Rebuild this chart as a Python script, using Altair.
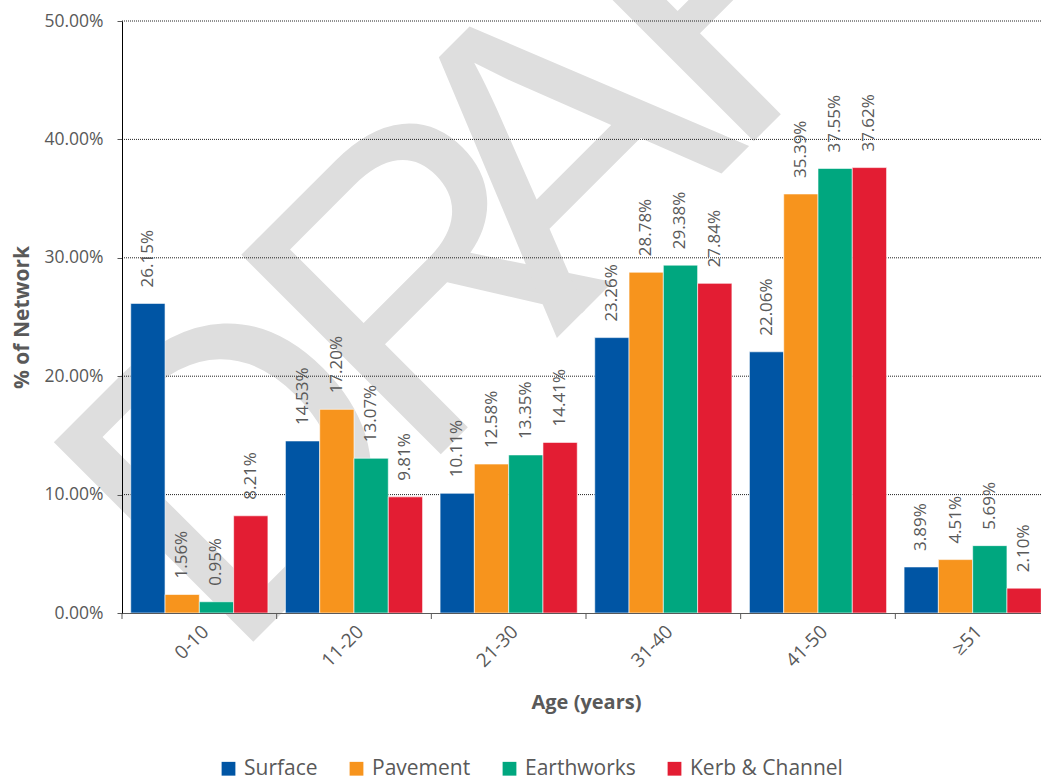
import altair as alt
import pandas as pd

# Age bands, asset series and their colours
ages = ["0-10", "11-20", "21-30", "31-40", "41-50", "≥51"]
series = ["Surface", "Pavement", "Earthworks", "Kerb & Channel"]
colors = ["#0055A4", "#F7941D", "#00A77F", "#E31D33"]

# Share of network (%) in each age band
surface = [26.15, 14.53, 10.11, 23.26, 22.06, 3.89]
pavement = [1.56, 17.20, 12.58, 28.78, 35.39, 4.51]
earthworks = [0.95, 13.07, 13.35, 29.38, 37.55, 5.69]
kerb_channel = [8.21, 9.81, 14.41, 27.84, 37.62, 2.10]

y_ticks = [0.0, 0.1, 0.2, 0.3, 0.4, 0.5]

rows = []
for name, vals in zip(series, [surface, pavement, earthworks, kerb_channel]):
    for age, v in zip(ages, vals):
        rows.append({"age": age, "series": name, "share": v / 100})
df = pd.DataFrame(rows)

W, H = 919, 592
FONT = "Open Sans"
GREY = "#595959"
X_TITLE = "Age (years)"
Y_TITLE = "% of Network"

x_scale = alt.Scale(domain=ages, range=[0, 928], paddingInner=0, paddingOuter=0)
y_scale = alt.Scale(domain=[0, 0.5])
off_scale = alt.Scale(domain=series, paddingInner=0, paddingOuter=0.255)
color_scale = alt.Scale(domain=series, range=colors)

x_axis = alt.Axis(
    ticks=False,
    grid=False,
    domain=True,
    domainColor=GREY,
    domainWidth=1,
    labelAngle=-45,
    labelFont=FONT,
    labelFontSize=19,
    labelColor=GREY,
    labelPadding=9,
    titleFont=FONT,
    titleFontSize=20,
    titleFontWeight="bold",
    titleColor=GREY,
    titlePadding=22,
    zindex=1,
)

y_axis = alt.Axis(
    values=y_ticks,
    format=".2%",
    grid=False,
    tickSize=5,
    tickColor=GREY,
    domainColor="black",
    labelFont=FONT,
    labelFontSize=17.5,
    labelColor=GREY,
    labelPadding=14,
    titleFont=FONT,
    titleFontSize=21,
    titleFontWeight="bold",
    titleColor=GREY,
    titlePadding=11,
    zindex=1,
)


# Large diagonal "DRAFT" watermark, one letter per layer
def letter(ch, x, y, align="left"):
    return alt.Chart(alt.Data(values=[{}])).mark_text(
        text=ch,
        angle=315,
        fontSize=410,
        font="Liberation Sans Narrow, Liberation Sans",
        color="#DEDEDE",
        align=align,
        baseline="alphabetic",
    ).encode(x=alt.value(x), y=alt.value(y))


watermark = [
    letter("D", 107.5, 644.5),
    letter("R", 295, 457),
    letter("A", 531, 221, "center"),
    letter("F", 608, 144),
    letter("T", 753, -1),
]

# Dotted horizontal gridlines
grid = alt.Chart(pd.DataFrame({"v": y_ticks[1:]})).mark_rule(
    color="#222222", strokeDash=[1, 1], strokeWidth=1
).encode(
    y=alt.Y("v:Q", scale=y_scale, title=Y_TITLE, axis=y_axis),
    x=alt.value(0),
    x2=alt.value(W),
)

bars = alt.Chart(df).mark_bar(stroke="white", strokeWidth=0.6).encode(
    x=alt.X("age:N", scale=x_scale, title=X_TITLE, axis=x_axis),
    xOffset=alt.XOffset("series:N", scale=off_scale),
    y=alt.Y("share:Q", scale=y_scale, title=Y_TITLE, axis=y_axis),
    color=alt.Color(
        "series:N",
        scale=color_scale,
        legend=alt.Legend(
            orient="none",
            legendX=96,
            legendY=737,
            direction="horizontal",
            title=None,
            symbolType="square",
            symbolSize=190,
            symbolStrokeWidth=0,
            labelFont=FONT,
            labelFontSize=21,
            labelColor=GREY,
            labelOffset=5,
            columnPadding=28,
        ),
    ),
)

# Value labels above each bar, reading upward
labels = alt.Chart(df).mark_text(
    angle=270, align="left", baseline="middle", dx=16, fontSize=17, font=FONT, color=GREY
).encode(
    x=alt.X("age:N", scale=x_scale, title=X_TITLE, axis=x_axis),
    xOffset=alt.XOffset("series:N", scale=off_scale),
    y=alt.Y("share:Q", scale=y_scale, title=Y_TITLE, axis=y_axis),
    text=alt.Text("share:Q", format=".2%"),
)

# Category boundary ticks on the x axis
xticks = alt.Chart(pd.DataFrame({"age": ages})).mark_rule(color=GREY, strokeWidth=1).encode(
    x=alt.X("age:N", scale=x_scale, title=X_TITLE, axis=x_axis, bandPosition=0),
    y=alt.value(H),
    y2=alt.value(H + 6),
)

chart = (
    alt.layer(*watermark, grid, bars, labels, xticks)
    .properties(
        width=W,
        height=H,
        autosize=alt.AutoSizeParams(type="none"),
        padding={"left": 122, "top": 21, "right": 0, "bottom": 167},
    )
    .configure_view(stroke=None)
)

chart.save("out.html", embed_options={"renderer": "svg", "actions": False})
